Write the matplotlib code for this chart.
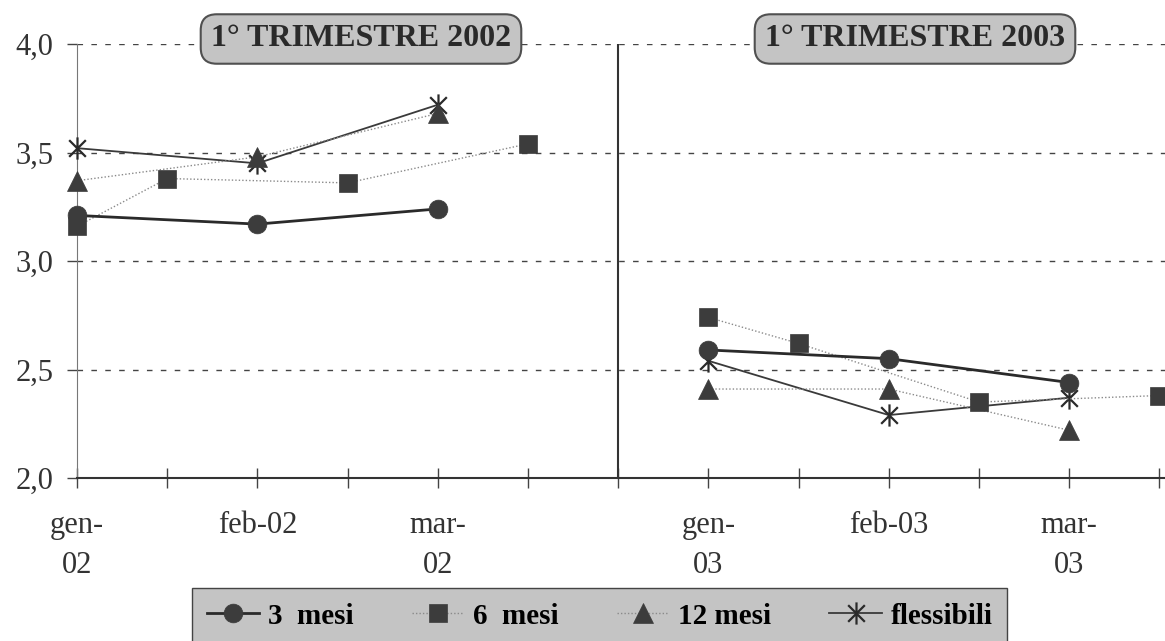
import matplotlib
matplotlib.use('Agg')
import matplotlib.pyplot as plt
from matplotlib.path import Path

plt.rcParams['font.family'] = ['Liberation Serif', 'DejaVu Serif']

# x axis: half-month slots, months on every other slot
tick_slots = list(range(13))
month_slots = [0, 2, 4, 7, 9, 11]
month_labels = ['gen-\n02', 'feb-02', 'mar-\n02', 'gen-\n03', 'feb-03', 'mar-\n03']
divider_slot = 6
panel_titles = ['1° TRIMESTRE 2002', '1° TRIMESTRE 2003']
y_ticks = [2.0, 2.5, 3.0, 3.5, 4.0]
y_tick_labels = ['2,0', '2,5', '3,0', '3,5', '4,0']
series_names = ['3  mesi', '6  mesi', '12 mesi', 'flessibili']

# 1st quarter 2002
mesi3_x_02 = [0, 2, 4]
mesi3_02 = [3.21, 3.17, 3.24]
mesi6_x_02 = [0, 1, 3, 5]
mesi6_02 = [3.16, 3.38, 3.36, 3.54]
mesi12_x_02 = [0, 2, 4]
mesi12_02 = [3.37, 3.48, 3.68]
flex_x_02 = [0, 2, 4]
flex_02 = [3.52, 3.45, 3.72]

# 1st quarter 2003
mesi3_x_03 = [7, 9, 11]
mesi3_03 = [2.59, 2.55, 2.44]
mesi6_x_03 = [7, 8, 10, 12]
mesi6_03 = [2.74, 2.62, 2.35, 2.38]
mesi12_x_03 = [7, 9, 11]
mesi12_03 = [2.41, 2.41, 2.22]
flex_x_03 = [7, 9, 11]
flex_03 = [2.54, 2.29, 2.37]

# asterisk marker: vertical bar plus an X
star = Path([(0, -1), (0, 1), (-0.75, -0.75), (0.75, 0.75), (-0.75, 0.75), (0.75, -0.75)],
            [Path.MOVETO, Path.LINETO] * 3)

dark = '#333333'
mark = '#3c3c3c'
styles = [
    dict(color='#2a2a2a', lw=2.0, ls='-', marker='o', ms=13.5),
    dict(color='#8a8a8a', lw=1.0, ls=(0, (1, 1.5)), marker='s', ms=13.5),
    dict(color='#8a8a8a', lw=1.0, ls=(0, (1, 1.5)), marker='^', ms=14.5),
    dict(color='#3a3a3a', lw=1.3, ls='-', marker=star, ms=16),
]

W, H = 1165, 641
fig = plt.figure(figsize=(W / 100, H / 100), dpi=100)
ax = fig.add_axes([77 / W, 1 - 478 / H, (W - 77) / W, (478 - 44) / H])

panels = [
    [(mesi3_x_02, mesi3_02), (mesi6_x_02, mesi6_02), (mesi12_x_02, mesi12_02), (flex_x_02, flex_02)],
    [(mesi3_x_03, mesi3_03), (mesi6_x_03, mesi6_03), (mesi12_x_03, mesi12_03), (flex_x_03, flex_03)],
]
handles = []
for p, panel in enumerate(panels):
    for i, (xs, ys) in enumerate(panel):
        st = styles[i]
        is_star = i == 3
        line, = ax.plot(xs, ys, color=st['color'], lw=st['lw'], ls=st['ls'],
                        marker=st['marker'], ms=st['ms'],
                        mfc=mark, mec=mark if not is_star else '#2a2a2a',
                        mew=1.6 if is_star else 0.5,
                        label=series_names[i], zorder=3 + (3 - i) * 0.1, clip_on=False)
        if p == 0:
            handles.append(line)

ax.set_xlim(0, (W - 77) / 90.2)
ax.set_ylim(2.0, 4.0)

# panel divider
ax.plot([divider_slot, divider_slot], [2.0, 4.0], color=dark, lw=1.5, zorder=2)

ax.set_yticks(y_ticks)
ax.set_yticklabels(y_tick_labels)
ax.set_xticks(tick_slots)
ax.set_xticklabels([month_labels[month_slots.index(s)] if s in month_slots else '' for s in tick_slots],
                   linespacing=1.5)
ax.tick_params(axis='x', direction='inout', length=14, width=1, color='#444444', pad=17,
               labelsize=22, labelcolor='#333333')
ax.tick_params(axis='y', direction='out', length=7, width=1, color='#444444', pad=10,
               labelsize=22, labelcolor='#333333')

ax.grid(axis='y', color='#444444', lw=1, ls=(0, (4, 6)))
ax.set_axisbelow(True)
for s in ['top', 'right']:
    ax.spines[s].set_visible(False)
ax.spines['left'].set_color('#777777')
ax.spines['bottom'].set_color(dark)
ax.spines['bottom'].set_linewidth(1.5)

# panel title boxes
for cx, title in zip([361, 915], panel_titles):
    fig.text(cx / W, 1 - 39 / H, title, ha='center', va='center', fontsize=23,
             fontweight='bold', color='#2a2a2a', zorder=10,
             bbox=dict(boxstyle='round,pad=0.32,rounding_size=0.5', fc='#c4c4c4',
                       ec='#505050', lw=1.5))

fig.legend(handles=handles, loc='upper left', bbox_to_anchor=(192 / W, 1 - 588 / H),
           ncol=4, frameon=True, fancybox=False, facecolor='#c4c4c4', edgecolor='#444444',
           framealpha=1, borderaxespad=0, borderpad=0.5, handlelength=1.8,
           handletextpad=0.3, columnspacing=2.0,
           prop={'size': 21, 'weight': 'bold'})

plt.savefig('out.png', dpi=100)
